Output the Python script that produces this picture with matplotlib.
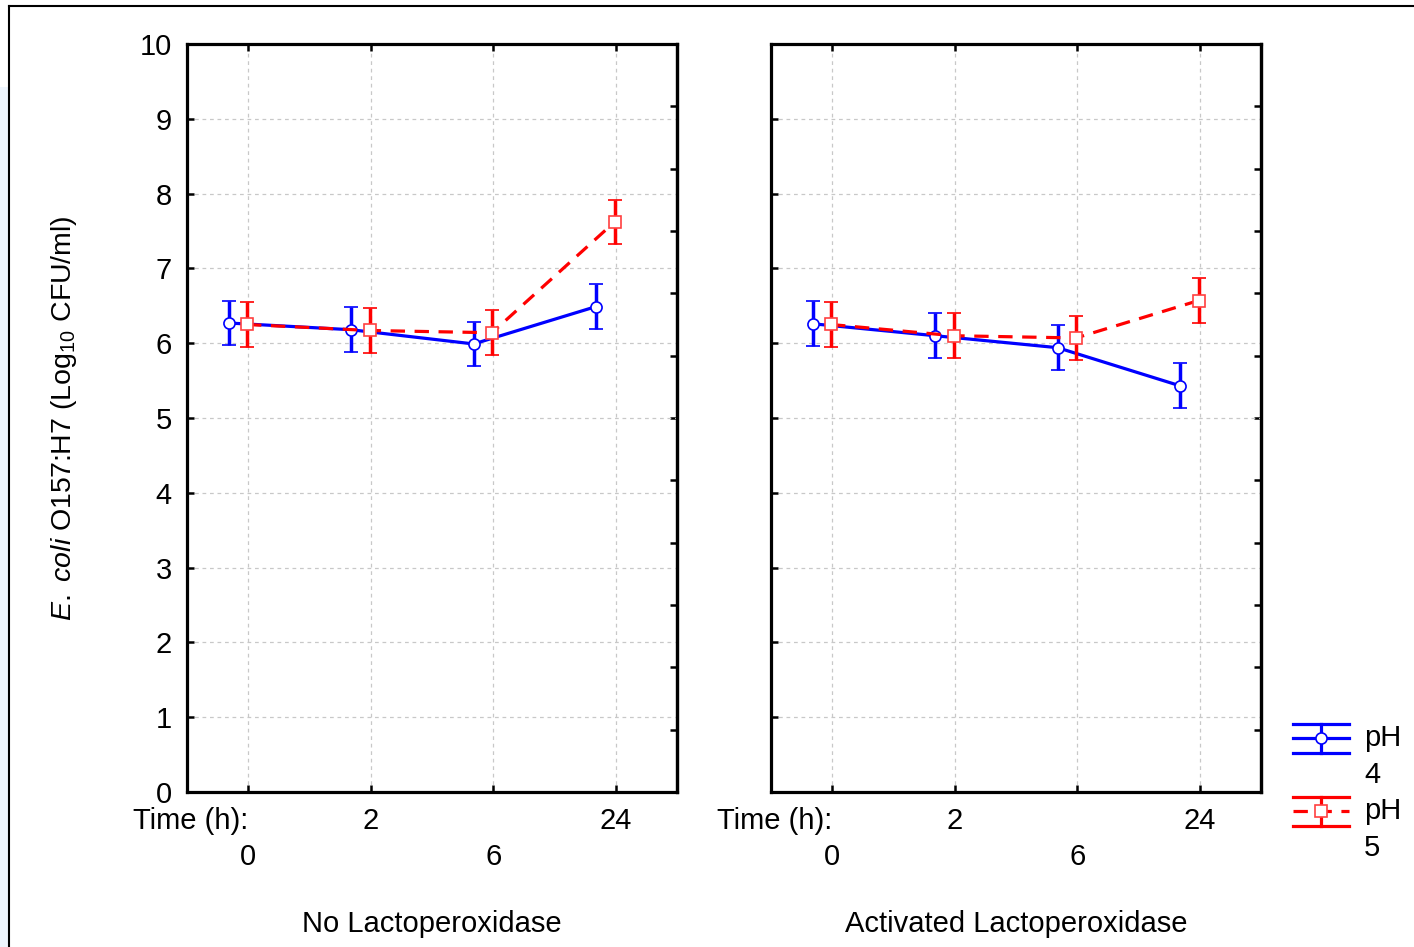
import numpy as np
import matplotlib
matplotlib.use("Agg")
import matplotlib.pyplot as plt
from matplotlib.lines import Line2D
from matplotlib.patches import Rectangle

plt.rcParams['font.family'] = ['Liberation Sans', 'DejaVu Sans']
plt.rcParams['mathtext.fontset'] = 'custom'
plt.rcParams['mathtext.rm'] = 'Liberation Sans'
plt.rcParams['mathtext.it'] = 'Liberation Sans:italic'

# data
times = ['0', '2', '6', '24']
panels = ['No Lactoperoxidase', 'Activated Lactoperoxidase']

ph4_mean = [[6.27, 6.18, 5.99, 6.49],
            [6.26, 6.10, 5.94, 5.43]]
ph4_err = [[0.30, 0.30, 0.30, 0.30],
           [0.30, 0.30, 0.30, 0.30]]
ph5_mean = [[6.25, 6.17, 6.14, 7.62],
            [6.25, 6.10, 6.07, 6.57]]
ph5_err = [[0.30, 0.30, 0.30, 0.30],
           [0.30, 0.30, 0.30, 0.30]]

W, H = 1414, 947
fig = plt.figure(figsize=(W / 100, H / 100), dpi=100)

FS = 21
GRID = '#c8c8c8'
x = np.arange(len(times))

axes = []
for i, left_px in enumerate([187, 771]):
    ax = fig.add_axes([left_px / W, 1 - 792 / H, 490 / W, 748 / H])
    axes.append(ax)

    ax.errorbar(x - 0.16, ph4_mean[i], yerr=ph4_err[i], color='#0000ff', lw=2.3,
                marker='o', ms=8, mfc='white', mec='#0000ff', mew=1.2,
                elinewidth=2.5, capsize=5, capthick=2.5, zorder=3)
    ebr = ax.errorbar(x - 0.01, ph5_mean[i], yerr=ph5_err[i], color='#ff0000', lw=2.3,
                      marker='s', ms=8, mfc='white', mec='#ff4040', mew=1.2,
                      elinewidth=2.5, capsize=5, capthick=2.5, zorder=4)
    ebr.lines[0].set_dashes((4.5, 3))

    ax.set_xlim(-0.5, 3.5)
    ax.set_ylim(0, 10)
    ax.set_yticks(range(0, 11))
    ax.set_xticks(x)
    # staggered tick labels: odd ones on the first row, even ones on a second row
    ax.set_xticklabels([t if k % 2 else '' for k, t in enumerate(times)], fontsize=FS)
    row2 = ax.secondary_xaxis('bottom')
    row2.set_xticks(x[::2])
    row2.set_xticklabels(times[::2], fontsize=FS)
    row2.tick_params(length=0, pad=36.5)
    row2.spines['bottom'].set_visible(False)

    ax.grid(True, color=GRID, ls=(0, (3, 3)), lw=0.9)
    ax.set_axisbelow(True)
    for sp in ax.spines.values():
        sp.set_linewidth(2.3)
    ax.tick_params(axis='both', direction='in', length=5, width=1.8,
                   labelsize=FS, top=True, right=False)
    ax.tick_params(axis='x', pad=10.5)
    ax.tick_params(axis='y', pad=11)
    if i == 1:
        ax.tick_params(axis='y', labelleft=False)

    sec = ax.secondary_yaxis('right')
    sec.set_yticks(np.arange(1, 12) * 10 / 12)
    sec.tick_params(direction='in', length=5, width=1.8, labelright=False)
    sec.spines['right'].set_linewidth(2.3)

    ax.annotate('Time (h):', xy=(0, 0), xycoords=('data', 'axes fraction'),
                xytext=(0, -10.5), textcoords='offset points',
                ha='right', va='top', fontsize=FS)
    ax.text(0.5, -0.1765, panels[i], transform=ax.transAxes,
            ha='center', va='center', fontsize=FS)

axes[0].set_ylabel(r'$\it{E.\ coli}$ O157:H7 (Log$_{10}$ CFU/ml)', fontsize=20.5)
axes[0].yaxis.set_label_coords(-0.22, 0.5)

# legend drawn in its own pixel-space axes
lg = fig.add_axes([0, 0, 1, 1])
lg.set_xlim(0, W)
lg.set_ylim(H, 0)
lg.axis('off')
lg.patch.set_alpha(0)
for color, mid, lab, dashed, mk in [('#0000ff', 738, '4', False, 'o'),
                                    ('#ff0000', 811, '5', True, 's')]:
    for dy in (-14.5, 14.5):
        lg.plot([1293, 1349], [mid + dy, mid + dy], color=color, lw=2.3)
    lg.plot([1321, 1321], [mid - 14.5, mid + 14.5], color=color, lw=2.3)
    ml, = lg.plot([1293, 1349], [mid, mid], color=color, lw=2.3)
    if dashed:
        ml.set_dashes((4.5, 3))
    lg.plot([1321], [mid], marker=mk, ms=8, mfc='white',
            mec=color if not dashed else '#ff4040', mew=1.2, color=color)
    lg.text(1364, mid, 'pH', fontsize=FS, va='center', ha='left')
    lg.text(1364, mid + 37, lab, fontsize=FS, va='center', ha='left')

# outer frame of the original screenshot
fig.add_artist(Rectangle((0, 0), 8 / W, 860 / H, transform=fig.transFigure,
                         color='#eef5fd', lw=0, zorder=0))
fig.add_artist(Line2D([9 / W, 1], [1 - 6 / H, 1 - 6 / H], transform=fig.transFigure,
                      color='black', lw=1.5))
fig.add_artist(Line2D([9 / W, 9 / W], [0, 1 - 6 / H], transform=fig.transFigure,
                      color='black', lw=1.5))

fig.savefig('out.png', dpi=100)
